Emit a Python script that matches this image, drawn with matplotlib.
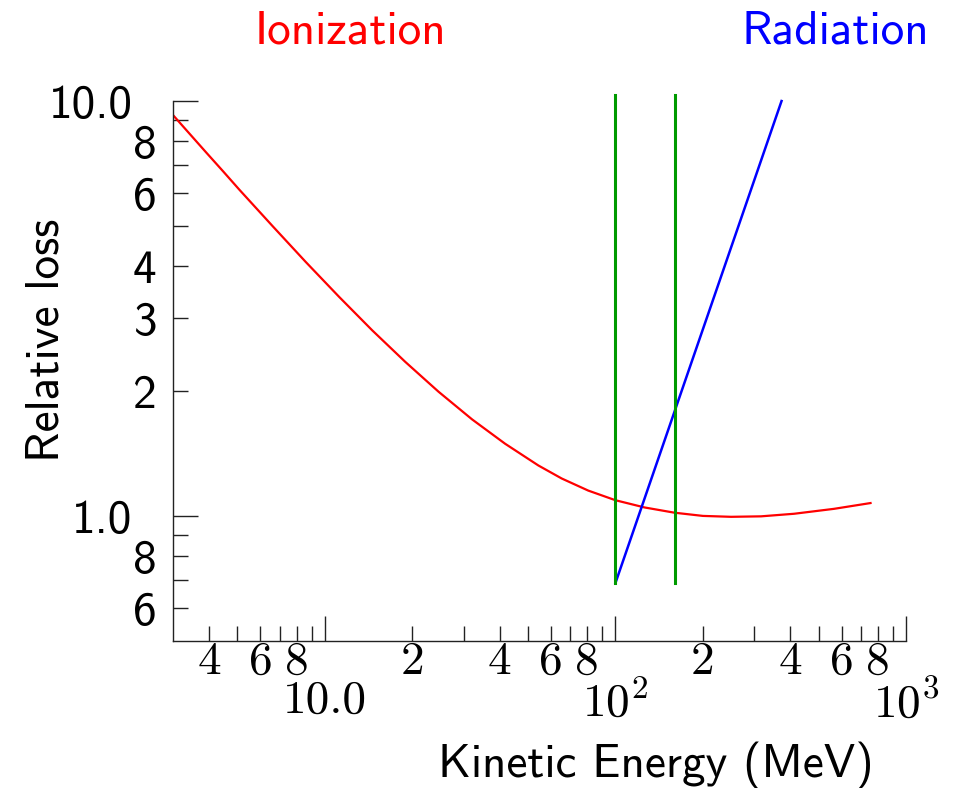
import matplotlib
matplotlib.use("Agg")
import matplotlib.pyplot as plt
from matplotlib.ticker import FixedLocator, FixedFormatter

plt.rcParams['mathtext.fontset'] = 'cm'
plt.rcParams['axes.unicode_minus'] = False

# ---- data ----
ion_energy = [3.0, 3.90, 4.45, 5.08, 6.61, 8.59, 11.2, 14.55, 18.9, 24.6, 32.1, 41.7,
              54.3, 65.3, 80.6, 100, 126, 159.6, 200, 250, 317, 412, 565, 755]
ion_loss = [9.25, 7.52, 6.785, 6.11, 4.993, 4.095, 3.372, 2.802, 2.353, 1.994, 1.710, 1.494,
            1.324, 1.232, 1.152, 1.092, 1.049, 1.019, 1.001, 0.996, 0.9986, 1.013, 1.041, 1.075]

rad_energy = [100, 373]
rad_loss = [0.69, 10.0]

cut_energies = [100, 160]
cut_loss = [0.69, 10.35]

x_major = [10, 100, 1000]
x_major_labels = ["10.0", "$10^2$", "$10^3$"]
x_minor = [4, 5, 6, 7, 8, 9, 20, 30, 40, 50, 60, 70, 80, 90,
           200, 300, 400, 500, 600, 700, 800, 900]
x_minor_labels = ["4", "", "6", "", "8", "", "2", "", "4", "", "6", "", "8", "",
                  "2", "", "4", "", "6", "", "8", ""]

y_major = [1, 10]
y_major_labels = ["1.0", "10.0"]
y_minor = [0.6, 0.7, 0.8, 0.9, 2, 3, 4, 5, 6, 7, 8, 9]
y_minor_labels = ["6", "", "8", "", "2", "3", "4", "", "6", "", "8", ""]

# ---- figure ----
fig = plt.figure(figsize=(9.58, 7.88), dpi=100)
ax = fig.add_axes([0.1806, 0.1865, 0.9457 - 0.1806, 0.8718 - 0.1865])
ax.set_xscale('log')
ax.set_yscale('log')
ax.set_xlim(3.0, 1000)
ax.set_ylim(0.5, 10)

ax.plot(ion_energy, ion_loss, color='#ff0000', lw=1.6, solid_joinstyle='round')
ax.plot(rad_energy, rad_loss, color='#0000ff', lw=1.8, clip_on=False)
for e in cut_energies:
    ax.plot([e, e], cut_loss, color='#009a00', lw=2.2, clip_on=False)

for s in ['top', 'right']:
    ax.spines[s].set_visible(False)
for s in ['left', 'bottom']:
    ax.spines[s].set_linewidth(1.0)
    ax.spines[s].set_color('#222222')

ax.xaxis.set_major_locator(FixedLocator(x_major))
ax.xaxis.set_major_formatter(FixedFormatter(x_major_labels))
ax.xaxis.set_minor_locator(FixedLocator(x_minor))
ax.xaxis.set_minor_formatter(FixedFormatter(x_minor_labels))
ax.yaxis.set_major_locator(FixedLocator(y_major))
ax.yaxis.set_major_formatter(FixedFormatter(y_major_labels))
ax.yaxis.set_minor_locator(FixedLocator(y_minor))
ax.yaxis.set_minor_formatter(FixedFormatter(y_minor_labels))

fs = 34
ax.tick_params(which='both', direction='in', color='#222222', width=1.0)
ax.tick_params(which='major', length=18)
ax.tick_params(which='minor', length=11)
ax.tick_params(axis='x', which='minor', pad=0)
ax.tick_params(axis='x', which='major', pad=28)
ax.tick_params(axis='y', which='minor', pad=12)
ax.tick_params(axis='y', which='major', pad=29)

for lab in ax.get_xticklabels(which='both'):
    lab.set_fontfamily('cmr10')
    lab.set_fontsize(fs)
for lab in ax.get_yticklabels(which='both'):
    lab.set_fontfamily('cmss10')
    lab.set_fontsize(fs)

fig.text(47 / 958, 1 - 340 / 788, "Relative loss", rotation=90, ha='center', va='center',
         family='cmss10', fontsize=fs)
fig.text(655.5 / 958, 1 - 777 / 788, "Kinetic Energy (MeV)", ha='center', va='baseline',
         family='cmss10', fontsize=fs)
fig.text(350 / 958, 1 - 44 / 788, "Ionization", ha='center', va='baseline',
         family='cmss10', fontsize=fs, color='#ff0000')
fig.text(835 / 958, 1 - 44 / 788, "Radiation", ha='center', va='baseline',
         family='cmss10', fontsize=fs, color='#0000ff')

fig.savefig('out.png', dpi=100)
